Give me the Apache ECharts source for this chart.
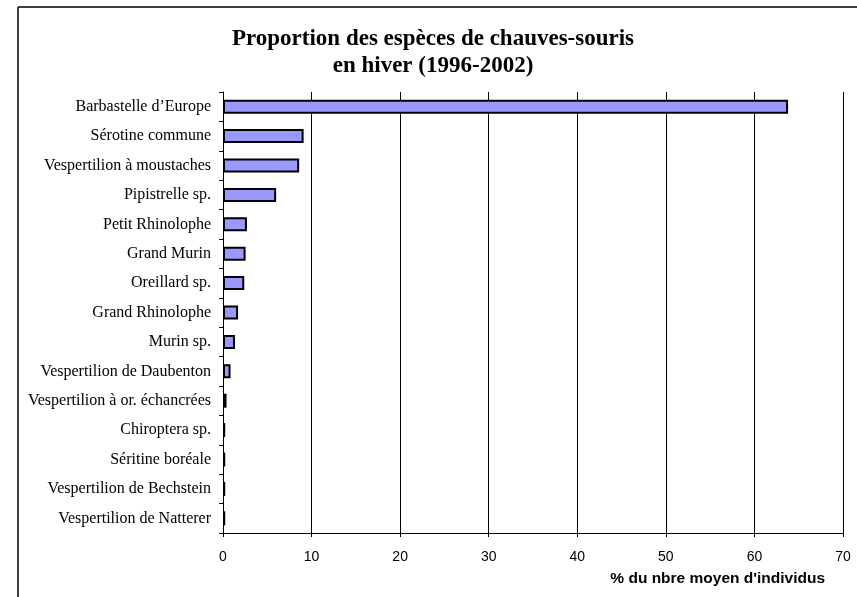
<!DOCTYPE html>
<html>
<head>
<meta charset="utf-8">
<script src="https://cdn.jsdelivr.net/npm/echarts@6/dist/echarts.min.js"></script>
<style>html,body{margin:0;padding:0;background:#fff;}#c{width:857px;height:597px;}</style>
</head>
<body>
<div id="c"></div>
<script>
const categories = [
  "Barbastelle d\u2019Europe",
  "Sérotine commune",
  "Vespertilion à moustaches",
  "Pipistrelle sp.",
  "Petit Rhinolophe",
  "Grand Murin",
  "Oreillard sp.",
  "Grand Rhinolophe",
  "Murin sp.",
  "Vespertilion de Daubenton",
  "Vespertilion à or. échancrées",
  "Chiroptera sp.",
  "Séritine boréale",
  "Vespertilion de Bechstein",
  "Vespertilion de Natterer"
];
const values = [63.8, 9.1, 8.6, 6.0, 2.7, 2.55, 2.4, 1.7, 1.35, 0.85, 0.4, 0.25, 0.25, 0.25, 0.25];
const xTicks = [0, 10, 20, 30, 40, 50, 60, 70];
const titleLines = ["Proportion des espèces de chauves-souris", "en hiver (1996-2002)"];
const axisName = "% du nbre moyen d'individus";

const chart = echarts.init(document.getElementById('c'), null, {renderer: 'canvas'});
chart.setOption({
  animation: false,
  backgroundColor: '#fff',
  title: {
    text: titleLines.join('\n'),
    left: 428, top: 21, textAlign: 'center',
    textStyle: {fontFamily: 'Liberation Serif', fontWeight: 'bold', fontSize: 23, lineHeight: 27, color: '#000'}
  },
  grid: {left: 223, right: 14, top: 92, bottom: 64, containLabel: false},
  xAxis: {
    type: 'value', min: xTicks[0], max: xTicks[xTicks.length - 1], interval: 10,
    axisLine: {show: true, lineStyle: {color: '#000', width: 1}},
    axisTick: {show: true, length: 4, lineStyle: {color: '#000'}},
    splitLine: {show: true, lineStyle: {color: '#000', width: 1}},
    axisLabel: {fontFamily: 'Liberation Sans', fontSize: 14, color: '#000', margin: 17}
  },
  yAxis: {
    type: 'category', data: categories, inverse: true,
    axisLine: {show: true, lineStyle: {color: '#000', width: 1}},
    axisTick: {show: true, length: 4, alignWithLabel: false, lineStyle: {color: '#000'}},
    axisLabel: {fontFamily: 'Liberation Serif', fontSize: 16, color: '#000', margin: 12}
  },
  series: [{
    type: 'bar', data: values, barWidth: 14,
    itemStyle: {color: '#9999FF', borderColor: '#000', borderWidth: 2}
  }],
  graphic: [
    {type: 'line', shape: {x1: 18, y1: 7, x2: 857, y2: 7}, style: {stroke: '#000', lineWidth: 1.5}},
    {type: 'line', shape: {x1: 18, y1: 7, x2: 18, y2: 597}, style: {stroke: '#000', lineWidth: 1.5}},
    {type: 'text', right: 32, top: 571, style: {text: axisName, fontFamily: 'Liberation Sans', fontWeight: 'bold', fontSize: 15.5, fill: '#000'}}
  ]
});
</script>
</body>
</html>
